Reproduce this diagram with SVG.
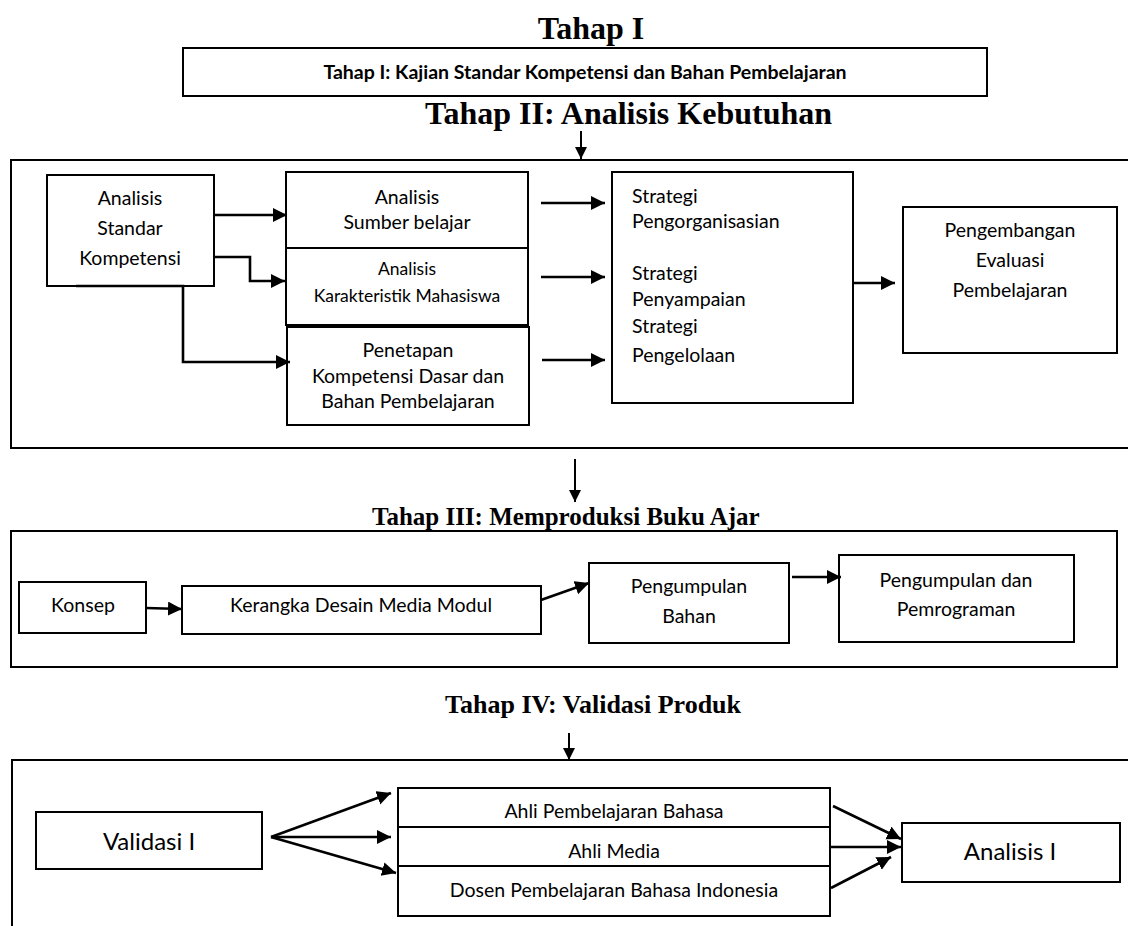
<svg xmlns="http://www.w3.org/2000/svg" width="1128" height="926" viewBox="0 0 1128 926">
<style>
.bx{fill:#fff;stroke:#000;stroke-width:2}
.frame{fill:none;stroke:#000;stroke-width:2}
.t{font-family:Lato,"Liberation Sans",sans-serif;font-size:19.5px;fill:#000}
.c{text-anchor:middle}
.sm{font-size:17.5px}
.lg{font-size:24px}
.tb{font-family:Lato,"Liberation Sans",sans-serif;font-weight:bold;font-size:19.5px;text-anchor:middle}
.ttl{font-family:"Liberation Serif","Times New Roman",serif;font-weight:bold;fill:#000}
.ln{fill:none;stroke:#000;stroke-width:2.6}
.thin{fill:none;stroke:#000;stroke-width:2}
</style>
<defs>
<marker id="ah" markerUnits="userSpaceOnUse" markerWidth="16" markerHeight="16" refX="14" refY="7" orient="auto">
<path d="M0,0 L14,7 L0,14 z" fill="#000"/>
</marker>
<marker id="ad" markerUnits="userSpaceOnUse" markerWidth="14" markerHeight="14" refX="12" refY="6" orient="auto">
<path d="M0,0 L12,6 L0,12 z" fill="#000"/>
</marker>
</defs>
<rect width="1128" height="926" fill="#fff"/>

<g id="titles">
<text class="ttl" x="591" y="39" font-size="32" text-anchor="middle">Tahap I</text>
<text class="ttl" x="425" y="124" font-size="32">Tahap II: Analisis Kebutuhan</text>
<text class="ttl" x="372" y="525" font-size="25">Tahap III: Memproduksi Buku Ajar</text>
<text class="ttl" x="445" y="713" font-size="26">Tahap IV: Validasi Produk</text>
</g>

<g id="tahap1">
<rect class="bx" x="183" y="48" width="804" height="48"/>
<text class="tb" x="585" y="79">Tahap I: Kajian Standar Kompetensi dan Bahan Pembelajaran</text>
</g>

<g id="frame2"><rect class="frame" x="11" y="160" width="1130" height="288"/></g>
<g id="frame3"><rect class="frame" x="11" y="531" width="1106" height="136"/></g>
<g id="frame4"><rect class="frame" x="12" y="760" width="1130" height="180"/></g>

<g id="ask">
<rect class="bx" x="47" y="175" width="167" height="111"/>
<text class="t c" x="130" y="205">Analisis</text>
<text class="t c" x="130" y="235">Standar</text>
<text class="t c" x="130" y="265">Kompetensi</text>
</g>
<g id="sumber">
<rect class="bx" x="286" y="172" width="242" height="76"/>
<text class="t c" x="407" y="204">Analisis</text>
<text class="t c" x="407" y="229">Sumber belajar</text>
</g>
<g id="karakteristik">
<rect class="bx" x="286" y="248" width="242" height="77"/>
<text class="t c sm" x="407" y="275">Analisis</text>
<text class="t c sm" x="407" y="302">Karakteristik Mahasiswa</text>
</g>
<g id="penetapan">
<rect class="bx" x="287" y="327" width="242" height="98"/>
<text class="t c" x="408" y="357">Penetapan</text>
<text class="t c" x="408" y="383">Kompetensi Dasar dan</text>
<text class="t c" x="408" y="408">Bahan Pembelajaran</text>
</g>
<g id="strategi">
<rect class="bx" x="612" y="172" width="241" height="231"/>
<text class="t" x="632" y="203">Strategi</text>
<text class="t" x="632" y="228">Pengorganisasian</text>
<text class="t" x="632" y="280">Strategi</text>
<text class="t" x="632" y="306">Penyampaian</text>
<text class="t" x="632" y="333">Strategi</text>
<text class="t" x="632" y="362">Pengelolaan</text>
</g>
<g id="evaluasi">
<rect class="bx" x="903" y="207" width="214" height="146"/>
<text class="t c" x="1010" y="237">Pengembangan</text>
<text class="t c" x="1010" y="267">Evaluasi</text>
<text class="t c" x="1010" y="297">Pembelajaran</text>
</g>

<g id="konsep">
<rect class="bx" x="19" y="582" width="127" height="51"/>
<text class="t c" x="83" y="612">Konsep</text>
</g>
<g id="kerangka">
<rect class="bx" x="182" y="586" width="359" height="48"/>
<text class="t c" x="361" y="612">Kerangka Desain Media Modul</text>
</g>
<g id="pengumpulan-bahan">
<rect class="bx" x="589" y="563" width="200" height="80"/>
<text class="t c" x="689" y="593">Pengumpulan</text>
<text class="t c" x="689" y="623">Bahan</text>
</g>
<g id="pemrograman">
<rect class="bx" x="839" y="555" width="235" height="87"/>
<text class="t c" x="956" y="587">Pengumpulan dan</text>
<text class="t c" x="956" y="616">Pemrograman</text>
</g>

<g id="validasi">
<rect class="bx" x="36" y="812" width="226" height="57"/>
<text class="t c lg" x="149" y="850">Validasi I</text>
</g>
<g id="ahli-bahasa">
<rect class="bx" x="398" y="788" width="432" height="39"/>
<text class="t c" x="614" y="818">Ahli Pembelajaran Bahasa</text>
</g>
<g id="ahli-media">
<rect class="bx" x="398" y="827" width="432" height="39"/>
<text class="t c" x="614" y="858">Ahli Media</text>
</g>
<g id="dosen">
<rect class="bx" x="398" y="866" width="432" height="50"/>
<text class="t c" x="614" y="897">Dosen Pembelajaran Bahasa Indonesia</text>
</g>
<g id="analisis1">
<rect class="bx" x="902" y="823" width="218" height="59"/>
<text class="t c lg" x="1010" y="860">Analisis I</text>
</g>

<g id="connectors">
<line class="thin" x1="581" y1="131" x2="581" y2="159" marker-end="url(#ad)"/>
<line class="thin" x1="575" y1="459" x2="575" y2="502" marker-end="url(#ad)"/>
<line class="thin" x1="569" y1="733" x2="569" y2="760" marker-end="url(#ad)"/>

<line class="ln" x1="214" y1="215" x2="287" y2="215" marker-end="url(#ah)"/>
<polyline class="ln" points="214,257 250,257 250,281 285,281" marker-end="url(#ah)"/>
<polyline class="ln" points="76,286 183,286 183,362 290,362" marker-end="url(#ah)"/>

<line class="ln" x1="541" y1="203" x2="605" y2="203" marker-end="url(#ah)"/>
<line class="ln" x1="541" y1="277" x2="605" y2="277" marker-end="url(#ah)"/>
<line class="ln" x1="542" y1="360" x2="605" y2="360" marker-end="url(#ah)"/>
<line class="ln" x1="853" y1="283" x2="895" y2="283" marker-end="url(#ah)"/>

<line class="ln" x1="146" y1="608" x2="182" y2="609" marker-end="url(#ah)"/>
<line class="ln" x1="541" y1="600" x2="589" y2="583" marker-end="url(#ah)"/>
<line class="ln" x1="792" y1="577" x2="841" y2="577" marker-end="url(#ah)"/>

<line class="ln" x1="271" y1="837" x2="391" y2="793" marker-end="url(#ah)"/>
<line class="ln" x1="271" y1="837" x2="391" y2="837" marker-end="url(#ah)"/>
<line class="ln" x1="271" y1="837" x2="396" y2="873" marker-end="url(#ah)"/>

<line class="ln" x1="833" y1="806" x2="901" y2="839" marker-end="url(#ah)"/>
<line class="ln" x1="830" y1="847" x2="901" y2="847" marker-end="url(#ah)"/>
<line class="ln" x1="831" y1="888" x2="891" y2="857" marker-end="url(#ah)"/>
</g>
</svg>
